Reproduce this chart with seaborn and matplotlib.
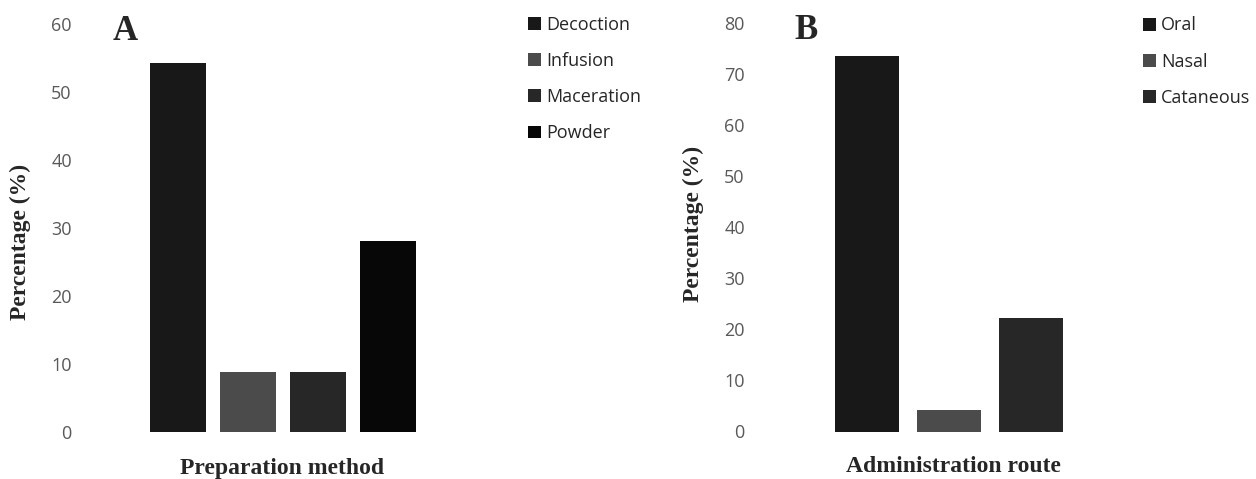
import matplotlib
matplotlib.use("Agg")
import matplotlib.pyplot as plt
from matplotlib.patches import Patch
import seaborn as sns

# Data
methods = ["Decoction", "Infusion", "Maceration", "Powder"]
method_pct = [54.2, 8.8, 8.8, 28.1]
method_colors = ["#181818", "#4b4b4b", "#272727", "#070707"]

routes = ["Oral", "Nasal", "Cataneous"]
route_pct = [73.5, 4.2, 22.3]
route_colors = ["#181818", "#4b4b4b", "#272727"]

sns.set_style("white")
plt.rcParams["font.family"] = ["Open Sans", "DejaVu Sans"]

W, H = 1256, 479
fig = plt.figure(figsize=(W / 100, H / 100), dpi=100)

SERIF = "Liberation Serif"
TICK_COLOR = "#595959"


def px_axes(left, right, y0, y1):
    # pixel box (y0 = value-0 line, y1 = top tick line) to figure fractions
    return fig.add_axes([left / W, (H - y0) / H, (right - left) / W, (y0 - y1) / H])


def draw_panel(ax, cats, vals, colors, ymax, xlim, ylabel_xy, xlabel_xy, letter_xy, letter,
               xlabel, legend_xy):
    sns.barplot(x=cats, y=vals, hue=cats, palette=colors, saturation=1, width=0.79,
                legend=False, ax=ax, edgecolor="none")
    ax.set_xlim(*xlim)
    ax.set_ylim(0, ymax)
    ax.set_yticks(range(0, ymax + 1, 10))
    ax.set_xticks([])
    ax.tick_params(axis="y", length=0, pad=9.5, labelsize=13, labelcolor=TICK_COLOR)
    sns.despine(ax=ax, left=True, bottom=True)

    # axis titles, placed in figure pixels
    fig.text(ylabel_xy[0] / W, (H - ylabel_xy[1]) / H, "Percentage (%)", rotation=90,
             ha="left", va="center", family=SERIF, weight="bold", fontsize=17)
    fig.text(xlabel_xy[0] / W, (H - xlabel_xy[1]) / H, xlabel, ha="center",
             va="baseline", family=SERIF, weight="bold", fontsize=17)
    fig.text(letter_xy[0] / W, (H - letter_xy[1]) / H, letter, ha="left",
             va="baseline", family=SERIF, weight="bold", fontsize=25)

    handles = [Patch(facecolor=c, edgecolor="none") for c in colors]
    fig.legend(handles, cats, loc="upper left",
               bbox_to_anchor=(legend_xy[0] / W, (H - legend_xy[1]) / H),
               frameon=False, borderpad=0, borderaxespad=0, fontsize=13,
               handlelength=0.7, handleheight=0.7, handletextpad=0.3,
               labelspacing=1.0, labelcolor="#262626")


# Panel A: bar centres at 178 px, 70 px apart
axA = px_axes(85, 440, 432, 23.7)
draw_panel(axA, methods, method_pct, method_colors, 60,
           (-(178 - 85) / 70, 3 + (440 - 388) / 70),
           (10, 242), (281.7, 474), (112.7, 40), "A",
           "Preparation method", (528, 16))

# Panel B: bar centres at 867 px, 82 px apart
axB = px_axes(758, 1100, 431.5, 23.3)
draw_panel(axB, routes, route_pct, route_colors, 80,
           (-(867 - 758) / 82, 2 + (1100 - 1031) / 82),
           (682.7, 224), (953, 471.5), (794, 39.3), "B",
           "Administration route", (1143, 16.5))

fig.savefig("out.png", dpi=100)
